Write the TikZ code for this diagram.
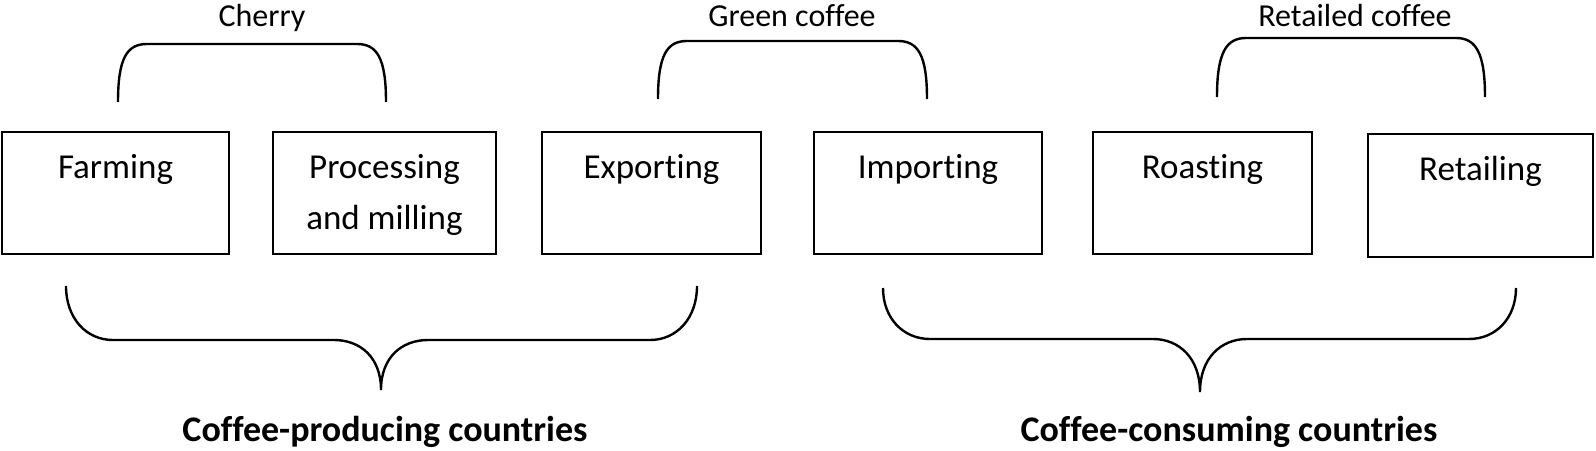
\documentclass[tikz,border=0pt]{standalone}
\usepackage{fontspec}
\setmainfont{Carlito}[Ligatures=NoCommon]
\usetikzlibrary{calc}

\begin{document}
\begin{tikzpicture}[x=1pt, y=-1pt,
    % Define the style for the boxes
    stage/.style={
        draw, line width=2.6pt, inner sep=0pt,
        minimum height=122pt, text height=46pt, text depth=76pt,
        font=\fontsize{35}{51}\selectfont
    },
    toplabel/.style={anchor=base, font=\fontsize{32}{38}\selectfont},
    bottomlabel/.style={anchor=base, font=\fontsize{36}{42}\selectfont\bfseries},
    brace/.style={line width=2.4pt}
]

\useasboundingbox (0,0) rectangle (1596,450);

% Draw the boxes
\node[stage, minimum width=227pt] (farming) at (115.5,193) {Farming};
\node[stage, minimum width=223pt] (processing) at (384.5,193)
    {\begin{tabular}[t]{@{}c@{}}Processing\\and milling\end{tabular}};
\node[stage, minimum width=219pt] (exporting) at (651.5,193) {Exporting};
\node[stage, minimum width=228pt] (importing) at (928,193) {Importing};
\node[stage, minimum width=219pt] (roasting) at (1202.5,193) {Roasting};
\node[stage, minimum width=225pt, minimum height=123pt, text depth=77pt] (retailing) at (1480.5,195.5) {Retailing};

% Draw the top braces
\draw[brace] (118,102) .. controls (118,58) and (127,44) .. (147,44)
    -- (357,44) .. controls (377,44) and (386,58) .. (386,102);
\draw[brace] (658,99) .. controls (658,55) and (667,41) .. (687,41)
    -- (898,41) .. controls (918,41) and (927,55) .. (927,99);
\draw[brace] (1217,97) .. controls (1217,53) and (1226,38) .. (1246,38)
    -- (1456,38) .. controls (1476,38) and (1485,53) .. (1485,97);

% Add the top labels
\node[toplabel] (cherry) at (262,26) {Cherry};
\node[toplabel] (greencoffee) at (792,26) {Green coffee};
\node[toplabel] (retailedcoffee) at (1355,26) {Retailed coffee};

% Draw the bottom braces
\draw[brace] (66,286) .. controls (66,318) and (86,340) .. (113,340)
    -- (334,340) .. controls (360,340) and (381,357) .. (381,390)
    .. controls (381,357) and (402,340) .. (428,340)
    -- (650,340) .. controls (677,340) and (697,318) .. (697,286);
\draw[brace] (883,288) .. controls (883,318) and (903,339) .. (930,339)
    -- (1153,339) .. controls (1179,339) and (1200,358) .. (1200,392)
    .. controls (1200,358) and (1221,339) .. (1247,339)
    -- (1469,339) .. controls (1496,339) and (1516,318) .. (1516,288);

% Add the bottom labels
\node[bottomlabel] (producing) at (385,441) {Coffee-producing countries};
\node[bottomlabel] (consuming) at (1229,441) {Coffee-consuming countries};

\end{tikzpicture}
\end{document}
